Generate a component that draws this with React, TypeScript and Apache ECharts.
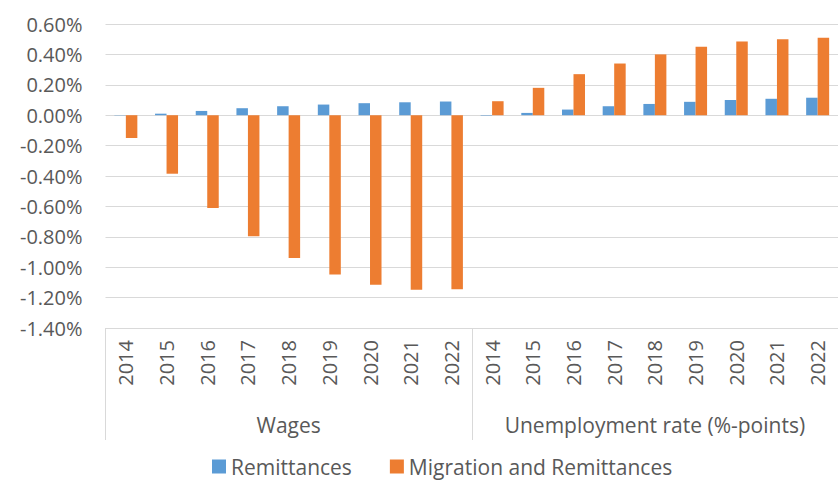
import React, { useEffect, useRef } from "react";
import * as echarts from "echarts";

const years = ["2014", "2015", "2016", "2017", "2018", "2019", "2020", "2021", "2022"];
const groups = ["Wages", "Unemployment rate (%-points)"];

// values in percent
const remittancesWages = [-0.002, 0.01, 0.028, 0.046, 0.059, 0.07, 0.079, 0.085, 0.09];
const remittancesUnemployment = [-0.003, 0.015, 0.037, 0.059, 0.074, 0.088, 0.1, 0.108, 0.115];
const migrationWages = [-0.15, -0.385, -0.61, -0.796, -0.94, -1.048, -1.116, -1.149, -1.145];
const migrationUnemployment = [0.092, 0.18, 0.27, 0.34, 0.4, 0.45, 0.485, 0.5, 0.51];

const yTicks = { min: -1.4, max: 0.6, interval: 0.2 };

const FONT = "'Open Sans', sans-serif";
const TEXT = "#595959";
const GRID = "#d9d9d9";

export default function App() {
  const ref = useRef<HTMLDivElement>(null);

  useEffect(() => {
    if (!ref.current) return;
    const chart = echarts.init(ref.current, undefined, { renderer: "svg" });
    const categories = [...years, ...years];
    const remittances = [...remittancesWages, ...remittancesUnemployment];
    const migration = [...migrationWages, ...migrationUnemployment];

    chart.setOption({
      animation: false,
      textStyle: { fontFamily: FONT },
      grid: { left: 105.5, right: -6.5, top: 24, bottom: 157, containLabel: false },
      legend: {
        bottom: 3,
        left: 207,
        itemWidth: 14,
        itemHeight: 14,
        itemGap: 38,
        icon: "rect",
        textStyle: { color: TEXT, fontSize: 21, fontFamily: FONT },
        data: ["Remittances", "Migration and Remittances"],
      },
      xAxis: [
        {
          type: "category",
          data: categories,
          position: "bottom",
          axisLine: { show: true, onZero: false, lineStyle: { color: GRID, width: 1 } },
          axisTick: { show: false },
          axisLabel: {
            interval: 0,
            rotate: 90,
            margin: 12,
            color: TEXT,
            fontSize: 20,
            fontFamily: FONT,
          },
        },
        {
          type: "category",
          data: groups,
          position: "bottom",
          axisLine: { show: false, onZero: false },
          axisTick: { show: true, length: 112, interval: 0, lineStyle: { color: GRID, width: 1 } },
          axisLabel: {
            interval: 0,
            margin: 86,
            color: TEXT,
            fontSize: 21,
            fontFamily: FONT,
          },
        },
      ],
      yAxis: {
        type: "value",
        min: yTicks.min,
        max: yTicks.max,
        interval: yTicks.interval,
        axisLine: { show: false },
        axisTick: { show: false },
        splitLine: { lineStyle: { color: GRID, width: 1 } },
        axisLabel: {
          color: TEXT,
          fontSize: 20,
          fontFamily: FONT,
          margin: 23,
          formatter: (v: number) => v.toFixed(2) + "%",
        },
      },
      series: [
        {
          name: "Remittances",
          type: "bar",
          data: remittances,
          barWidth: 11.5,
          barGap: "0%",
          itemStyle: { color: "#5B9BD5" },
        },
        {
          name: "Migration and Remittances",
          type: "bar",
          data: migration,
          barWidth: 11.5,
          barGap: "0%",
          itemStyle: { color: "#ED7D31" },
        },
      ],
    });
    return () => chart.dispose();
  }, []);

  return (
    <div
      ref={ref}
      style={{ position: "absolute", left: 0, top: 0, width: 838, height: 485, background: "#fff" }}
    />
  );
}
